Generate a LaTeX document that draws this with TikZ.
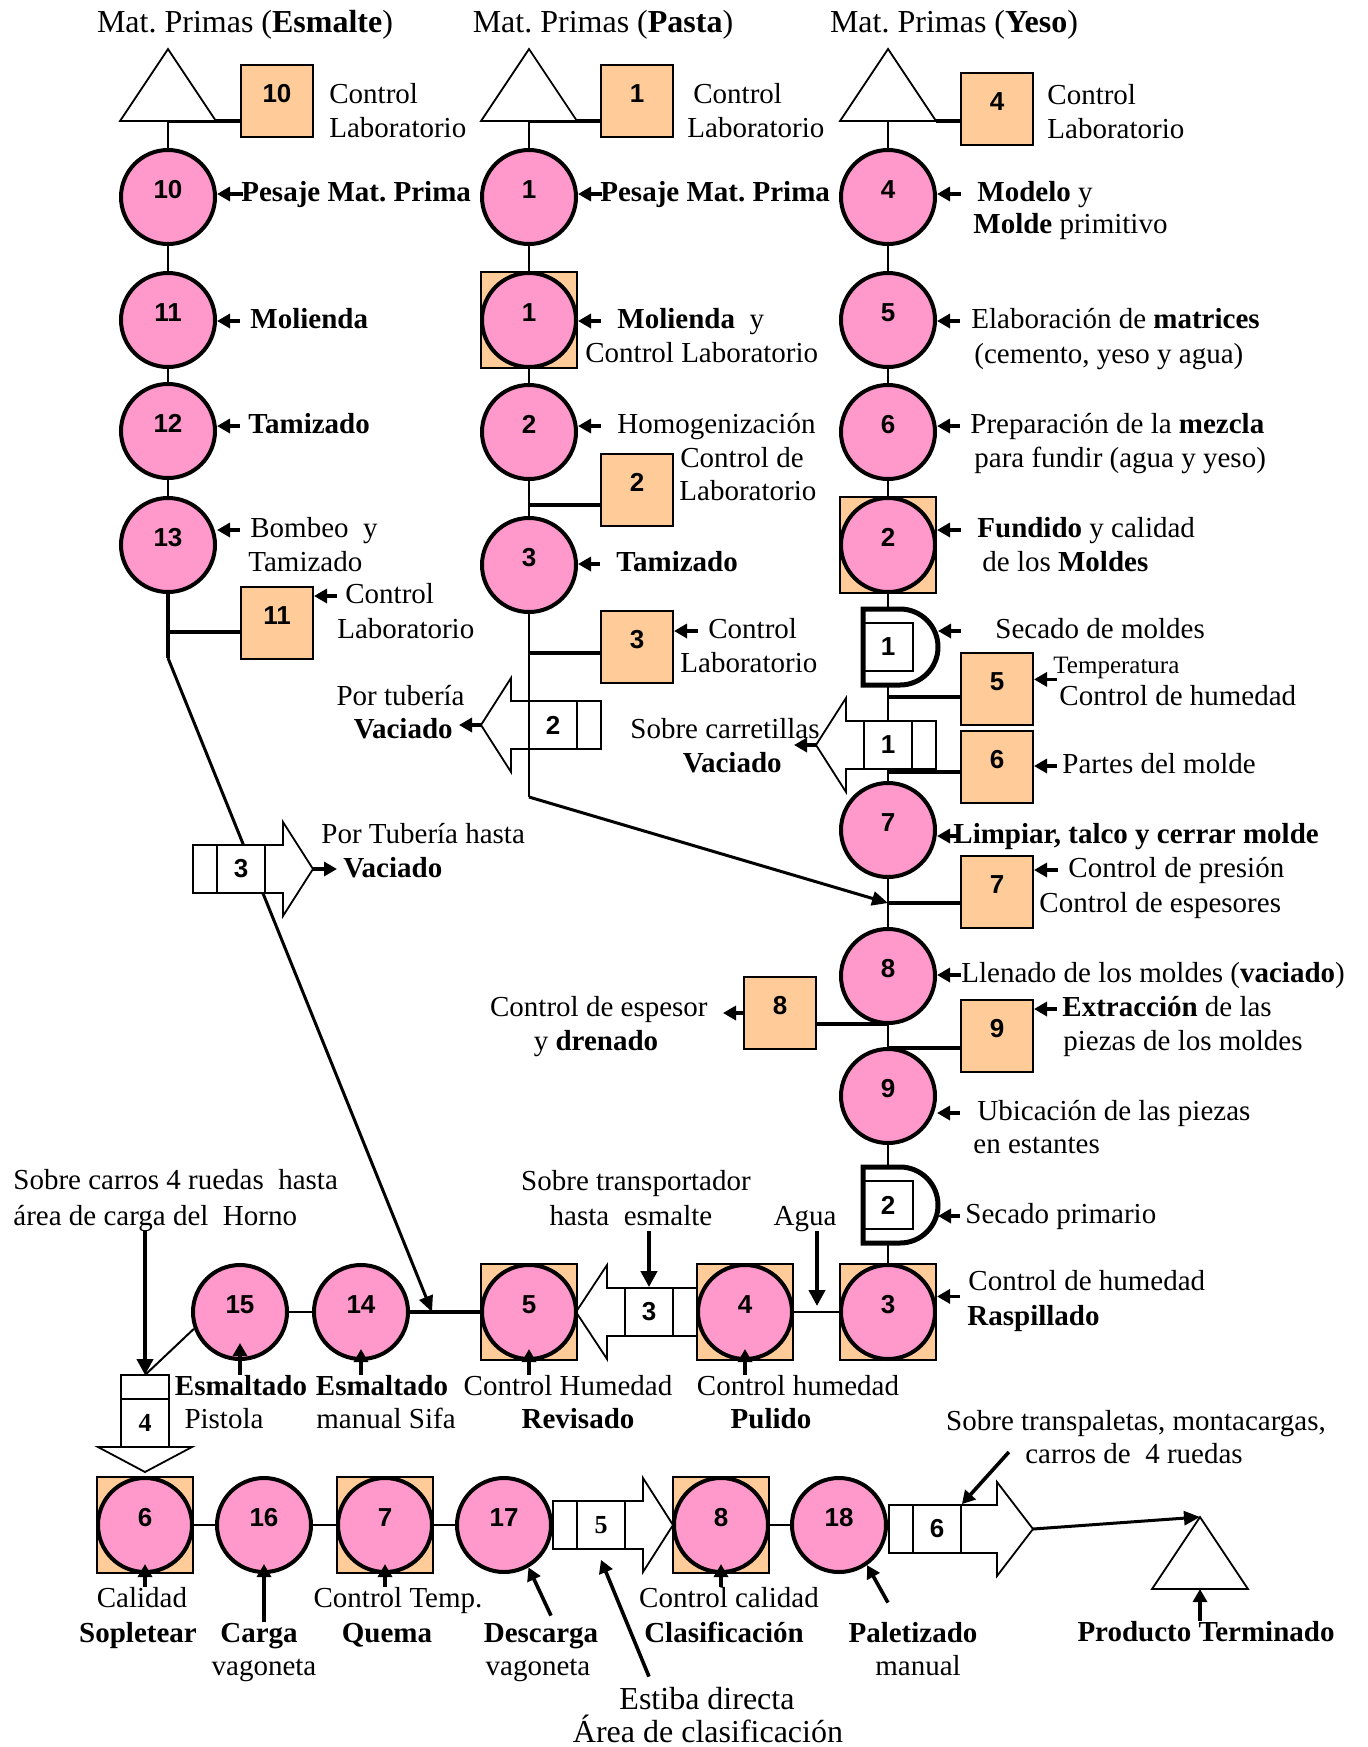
\documentclass[tikz,border=0pt]{standalone}
\usepackage{fontspec}
\setmainfont{Liberation Serif}
\newfontfamily\numfont{Liberation Sans}
\usepackage{tikz}
\usetikzlibrary{arrows.meta,backgrounds}
\definecolor{oppink}{RGB}{255,153,204}
\definecolor{ctrlorange}{RGB}{255,204,153}
\newcommand{\lblfont}{\fontsize{14.5}{17}\selectfont}
\newcommand{\numfnt}{\numfont\bfseries\fontsize{13}{15}\selectfont}
\newcommand{\storetri}[3]{\draw[tristore] (#2,#3) -- ++(-48,72) -- ++(96,0) -- cycle; \coordinate (#1) at (#2,#3+72); \coordinate (#1-r) at (#2+48,#3+72); \coordinate (#1-top) at (#2,#3);}
\newcommand{\transarrow}[7]{\begin{scope}[shift={(#2,#3)},rotate=#4]
	\draw[tarrow] (-48,-24) -- (#6,-24) -- (#6,-47) -- (#7,0) -- (#6,47) -- (#6,24) -- (-48,24) -- cycle; \draw[tarrow] (-24,-24) -- (-24,24);
	\node[tbox] (#1) at (0,0) {#5}; \coordinate (#1-tip) at (#7,0); \coordinate (#1-back) at (-48,0);
	\end{scope}}
\newcommand{\delaybox}[4]{\begin{scope}[shift={(#2,#3)}]
	\fill[white] (-25,-38) -- (12,-38) arc[start angle=90,end angle=-90,radius=19pt] -- (-25,38) -- cycle;
	\node[dbox] (#1) at (0,0) {#4};
	\draw[delayline] (-25,-38) -- (12,-38) arc[start angle=90,end angle=-90,radius=19pt] -- (-25,38) -- cycle; \coordinate (#1-r) at (50,0);
	\end{scope}}

\begin{document}
\frenchspacing
\begin{tikzpicture}[x=0.5pt,y=-0.5pt,
	opcirc/.style={circle,draw,line width=2pt,fill=oppink,minimum size=47pt,inner sep=0pt,font=\numfnt,text height=9pt,text depth=8pt},
	ctrlsq/.style={rectangle,draw,line width=1pt,fill=ctrlorange,minimum size=36pt,inner sep=0pt,font=\numfnt,text height=9pt,text depth=8pt},
	bigsq/.style={ctrlsq,minimum size=48pt},
	tbox/.style={rectangle,draw,line width=0.9pt,fill=white,minimum size=24pt,inner sep=0pt,font=\numfnt},
	dbox/.style={tbox,minimum width=25pt,minimum height=24pt},
	tarrow/.style={draw,line width=0.9pt,fill=white},
	delayline/.style={draw,line width=2.5pt},
	tristore/.style={draw,line width=0.9pt,fill=white},
	lbl/.style={inner sep=0pt,anchor=west,text height=10pt,text depth=3pt,font=\lblfont},
	lblb/.style={lbl,font=\lblfont\bfseries},
	lblc/.style={lbl,anchor=center}, lblcb/.style={lblb,anchor=center},
	titletext/.style={inner sep=0pt,font=\fontsize{16}{19}\selectfont},
	flowline/.style={line width=1pt}, ctrlline/.style={line width=1.7pt},
	lblarrow/.style={-{Triangle[length=6.5pt,width=7pt]},line width=1.8pt},
	feedarrow/.style={-{Triangle[length=8pt,width=8pt]},line width=2pt},
	bigarrow/.style={-{Triangle[length=8pt,width=7pt]},line width=1.5pt}]
	\useasboundingbox (0,0) rectangle (1367,1747);
	\node[titletext] (tE) at (245,25) {Mat. Primas (\textbf{Esmalte})};
	\node[titletext] (tP) at (603,25) {Mat. Primas (\textbf{Pasta})};
	\node[titletext] (tY) at (954,25) {Mat. Primas (\textbf{Yeso})};
	\storetri{t1}{168}{49} \storetri{t2}{529}{49} \storetri{t3}{888}{49} \storetri{t4}{1200}{1517}

	\node[ctrlsq] (q10) at (277,101) {10};
	\node[opcirc] (e10) at (168,197) {10}; \node[opcirc] (e11) at (168,320) {11};
	\node[opcirc] (e12) at (168,431) {12}; \node[opcirc] (e13) at (168,545) {13};
	\node[ctrlsq] (q11) at (277,623) {11};
	\transarrow{a3}{241}{869}{0}{3}{42}{72}

	\node[ctrlsq] (q1) at (637,101) {1};
	\node[opcirc] (p1) at (529,197) {1};
	\node[bigsq] (p1q) at (529,320) {}; \node[opcirc] (p1b) at (529,320) {1};
	\node[opcirc] (p2) at (529,432) {2}; \node[ctrlsq] (q2) at (637,490) {2};
	\node[opcirc] (p3) at (529,565) {3}; \node[ctrlsq] (q3) at (637,647) {3};
	\transarrow{a2}{553}{725}{180}{2}{42}{72}

	\node[ctrlsq] (q4) at (997,109) {4};
	\node[opcirc] (y4) at (888,197) {4}; \node[opcirc] (y5) at (888,320) {5}; \node[opcirc] (y6) at (888,432) {6};
	\node[bigsq] (y2q) at (888,545) {}; \node[opcirc] (y2) at (888,545) {2};
	\delaybox{d1}{888}{647}{1}
	\node[ctrlsq] (q5) at (997,689) {5};
	\transarrow{a1}{888}{745}{180}{1}{42}{72}
	\node[ctrlsq] (q6) at (997,767) {6};
	\node[opcirc] (y7) at (888,830) {7}; \node[ctrlsq] (q7) at (997,892) {7};
	\node[opcirc] (y8) at (888,976) {8}; \node[ctrlsq] (q8) at (780,1013) {8};
	\node[ctrlsq] (q9) at (997,1036) {9}; \node[opcirc] (y9) at (888,1096) {9};
	\delaybox{d2}{888}{1205}{2}
	\node[bigsq] (y3q) at (888,1312) {}; \node[opcirc] (y3) at (888,1312) {3};

	\node[bigsq] (c4q) at (745,1312) {}; \node[opcirc] (c4) at (745,1312) {4};
	\transarrow{a3b}{649}{1312}{180}{3}{42}{73}
	\node[bigsq] (c5q) at (529,1312) {}; \node[opcirc] (c5) at (529,1312) {5};
	\node[opcirc] (c14) at (361,1312) {14}; \node[opcirc] (c15) at (240,1312) {15};
	\transarrow{a4}{145}{1423}{-90}{{\rmfamily 4}}{24}{49}

	\node[bigsq] (c6q) at (145,1525) {}; \node[opcirc] (c6) at (145,1525) {6};
	\node[opcirc] (c16) at (264,1525) {16};
	\node[bigsq] (c7q) at (385,1525) {}; \node[opcirc] (c7) at (385,1525) {7};
	\node[opcirc] (c17) at (504,1525) {17};
	\transarrow{a5}{601}{1525}{0}{{\rmfamily 5}}{42}{72}
	\node[bigsq] (c8q) at (721,1525) {}; \node[opcirc] (c8) at (721,1525) {8};
	\node[opcirc] (c18) at (839,1525) {18};
	\transarrow{a6}{937}{1529}{0}{6}{60}{96}

	\coordinate (k1) at (168,658); \coordinate (j11) at (168,632); \coordinate (m5) at (432,1312);
	\coordinate (k2) at (529,797); \coordinate (j2) at (529,505); \coordinate (j3) at (529,653);
	\coordinate (j5) at (888,697); \coordinate (j6) at (888,772); \coordinate (j7) at (888,903);
	\coordinate (j8) at (888,1024); \coordinate (j9) at (888,1048);
	\begin{scope}[on background layer]
		\draw[flowline] (t1) -- (e13); \draw[ctrlline] (e13) -- (k1); \draw[ctrlline] (t1) -- (t1 -| q10.west);
		\draw[ctrlline] (j11) -- (j11 -| q11.west); \draw[bigarrow] (k1) -- (m5);
		\draw[flowline] (t2) -- (k2); \draw[ctrlline] (t2) -- (t2 -| q1.west);
		\draw[ctrlline] (j2) -- (j2 -| q2.west); \draw[ctrlline] (j3) -- (j3 -| q3.west); \draw[bigarrow] (k2) -- (j7);
		\draw[flowline] (t3) -- (y3); \draw[ctrlline] (t3-r) -- (t3-r -| q4.west);
		\draw[ctrlline] (j5) -- (j5 -| q5.west); \draw[ctrlline] (j6) -- (j6 -| q6.west); \draw[ctrlline] (j7) -- (j7 -| q7.west);
		\draw[ctrlline] (j8) -- (j8 -| q8.east); \draw[ctrlline] (j9) -- (j9 -| q9.west);
		\draw[flowline] (y3) -- (c4); \draw[ctrlline] (c14) -- (c5); \draw[flowline] (c15) -- (c14); \draw[flowline] (c15.200) -- (a4-back);
		\draw[flowline] (c6) -- (c16) -- (c7) -- (c17); \draw[flowline] (c8) -- (c18);
	\end{scope}
	\draw[bigarrow] (a6-tip) -- (t4-top);

	\node[lbl] (lq10) at (329,96) {Control}; \node[lbl] (lq10b) at (329,130) {Laboratorio};
	\node[lbl] (lq1) at (693,96) {Control}; \node[lbl] (lq1b) at (687,130) {Laboratorio};
	\node[lbl] (lq4) at (1047,97) {Control}; \node[lbl] (lq4b) at (1047,131) {Laboratorio};

	\node[lblb] (l10) at (241,194) {Pesaje Mat. Prima}; \draw[lblarrow] ([xshift=1pt]l10.west) -- (l10.west -| e10.east);
	\node[lblb] (l11) at (250,321) {Molienda}; \draw[lblarrow] ([xshift=-5pt]l11.west) -- (l11.west -| e11.east);
	\node[lblb] (l12) at (248,426) {Tamizado}; \draw[lblarrow] ([xshift=-4pt]l12.west) -- (l12.west -| e12.east);
	\node[lbl] (l13) at (250,530) {Bombeo\ \ y}; \node[lbl] (l13b) at (248,564) {Tamizado};
	\draw[lblarrow] ([xshift=-5pt]l13.west) -- (l13.west -| e13.east);
	\node[lbl] (lq11) at (345,596) {Control}; \node[lbl] (lq11b) at (337,631) {Laboratorio};
	\draw[lblarrow] ([xshift=-4pt]lq11.west) -- (lq11.west -| q11.east);
	\node[lbl] (lPorE) at (321,836) {Por Tubería hasta}; \node[lblb] (lVacE) at (343,870) {Vaciado};
	\draw[lblarrow] (a3-tip) -- ([xshift=-3pt]lVacE.west |- a3-tip);

	\node[lblb] (l1) at (600,194) {Pesaje Mat. Prima}; \draw[lblarrow] ([xshift=1pt]l1.west) -- (l1.west -| p1.east);
	\node[lbl] (l1b) at (617,321) {\textbf{Molienda}\ \ y}; \node[lbl] (l1bb) at (585,355) {Control Laboratorio};
	\draw[lblarrow] ([xshift=-8pt]l1b.west) -- (l1b.west -| p1q.east);
	\node[lbl] (l2) at (617,426) {Homogenización}; \draw[lblarrow] ([xshift=-8pt]l2.west) -- (l2.west -| p2.east);
	\node[lbl] (lq2) at (680,460) {Control de}; \node[lbl] (lq2b) at (679,493) {Laboratorio};
	\node[lblb] (l3) at (616,564) {Tamizado}; \draw[lblarrow] ([xshift=-8pt]l3.west) -- (l3.west -| p3.east);
	\node[lbl] (lq3) at (708,631) {Control}; \node[lbl] (lq3b) at (680,665) {Laboratorio};
	\draw[lblarrow] ([xshift=-5pt]lq3.west) -- (lq3.west -| q3.east);
	\node[lbl,anchor=east] (lPorP) at (465,698) {Por tubería}; \node[lblb,anchor=east] (lVacP) at (453,731) {Vaciado};
	\draw[lblarrow] (a2-tip) -- ([xshift=3pt]lVacP.east |- a2-tip);

	\node[lbl] (l4) at (977,194) {\textbf{Modelo} y}; \node[lbl] (l4b) at (973,226) {\textbf{Molde} primitivo};
	\draw[lblarrow] ([xshift=-8pt]l4.west) -- (l4.west -| y4.east);
	\node[lbl] (l5) at (971,321) {Elaboración de \textbf{matrices}}; \node[lbl] (l5b) at (974,356) {(cemento, yeso y agua)};
	\draw[lblarrow] ([xshift=-5.5pt]l5.west) -- (l5.west -| y5.east);
	\node[lbl] (l6) at (970,426) {Preparación de la \textbf{mezcla}}; \node[lbl] (l6b) at (974,460) {para fundir (agua y yeso)};
	\draw[lblarrow] ([xshift=-5pt]l6.west) -- (l6.west -| y6.east);
	\node[lbl] (l2y) at (977,530) {\textbf{Fundido} y calidad}; \node[lbl] (l2yb) at (982,564) {de los \textbf{Moldes}};
	\draw[lblarrow] ([xshift=-8pt]l2y.west) -- (l2y.west -| y2q.east);
	\node[lbl] (ld1) at (995,631) {Secado de moldes}; \draw[lblarrow] ([xshift=-17pt]ld1.west) -- (ld1.west -| d1-r);
	\node[lbl,font=\fontsize{12.5}{14}\selectfont] (lq5) at (1053,666) {Temperatura}; \node[lbl] (lq5b) at (1059,698) {Control de humedad};
	\draw[lblarrow] ([xshift=2pt]lq5.south west) -- (lq5.south west -| q5.east);
	\node[lbl,anchor=east] (lSobC) at (820,731) {Sobre carretillas}; \node[lblb,anchor=east] (lVacY) at (782,765) {Vaciado};
	\draw[lblarrow] (a1-tip) -- ([xshift=6pt]lVacY.east |- a1-tip);
	\node[lbl] (lq6) at (1062,766) {Partes del molde}; \draw[lblarrow] ([xshift=-2.5pt]lq6.west) -- (lq6.west -| q6.east);
	\node[lblb] (l7) at (953,836) {Limpiar, talco y cerrar molde}; \draw[lblarrow] ([xshift=3pt]l7.west) -- (l7.west -| y7.east);
	\node[lbl] (lq7) at (1068,870) {Control de presión}; \node[lbl] (lq7b) at (1039,905) {Control de espesores};
	\draw[lblarrow] ([xshift=-5pt]lq7.west) -- (lq7.west -| q7.east);
	\node[lbl] (l8) at (961,975) {Llenado de los moldes (\textbf{vaciado})}; \draw[lblarrow] (l8.west) -- (l8.west -| y8.east);
	\node[lbl,anchor=east] (lq8) at (708,1009) {Control de espesor}; \node[lblc] (lq8b) at (596,1043) {y \textbf{drenado}};
	\draw[lblarrow] (q8.west) -- ([xshift=7.5pt]lq8.east |- q8.west);
	\node[lbl] (lq9) at (1062,1009) {\textbf{Extracción} de las}; \node[lbl] (lq9b) at (1063,1043) {piezas de los moldes};
	\draw[lblarrow] ([xshift=-2.5pt]lq9.west) -- (lq9.west -| q9.east);
	\node[lbl] (l9) at (977,1113) {Ubicación de las piezas}; \node[lbl] (l9b) at (973,1146) {en estantes};
	\draw[lblarrow] ([xshift=-8.5pt]l9.west) -- (l9.west -| y9.east);
	\node[lbl] (ld2) at (965,1216) {Secado primario}; \draw[lblarrow] ([xshift=-2.5pt]ld2.west) -- (ld2.west -| d2-r);
	\node[lbl] (l3y) at (968,1283) {Control de humedad}; \node[lblb] (l3yb) at (967,1318) {Raspillado};
	\draw[lblarrow] ([xshift=-4pt]l3y.south west) -- (l3y.south west -| y3q.east);

	\node[lbl] (lSc) at (13,1182) {Sobre carros 4 ruedas\ \ hasta}; \node[lbl] (lSc2) at (13,1218) {área de carga del\ \ Horno};
	\draw[feedarrow] (lSc2.south -| a4-back) -- (a4-back);
	\node[lblc] (lTr) at (636,1183) {Sobre transportador}; \node[lblc] (lTr2) at (631,1218) {hasta\ \ esmalte};
	\draw[feedarrow] (lTr2.south -| a3b) -- (a3b.north);
	\node[lblc] (lAgua) at (805,1218) {Agua}; \draw[feedarrow] ([xshift=6pt]lAgua.south) -- ([xshift=6pt,yshift=3pt]lAgua.south |- c4.east);
	\node[lblcb] (l15) at (241,1388) {Esmaltado}; \node[lblc] (l15b) at (224,1421) {Pistola};
	\draw[lblarrow] (c15.south |- l15.north) -- ([yshift=9pt]c15.south);
	\node[lblcb] (l14) at (382,1388) {Esmaltado}; \node[lblc] (l14b) at (386,1421) {manual Sifa};
	\draw[lblarrow] (c14.south |- l14.north) -- ([yshift=6pt]c14.south);
	\node[lblc] (l5c) at (568,1388) {Control Humedad}; \node[lblcb] (l5cb) at (578,1421) {Revisado};
	\draw[lblarrow] (c5.south |- l5c.north) -- ([yshift=6pt]c5.south);
	\node[lblc] (l4c) at (798,1388) {Control humedad}; \node[lblcb] (l4cb) at (771,1421) {Pulido};
	\draw[lblarrow] (c4.south |- l4c.north) -- ([yshift=6pt]c4.south);

	\node[lblc] (l6c) at (142,1600) {Calidad}; \node[lblcb] (l6cb) at (138,1635) {Sopletear};
	\draw[lblarrow] (c6.south |- l6c.north) -- ([yshift=5pt]c6.south);
	\node[lblcb] (l16) at (259,1635) {Carga}; \node[lblc] (l16b) at (264,1668) {vagoneta};
	\draw[lblarrow] (c16.south |- l16.north) -- ([yshift=5pt]c16.south);
	\node[lblc] (l7c) at (398,1600) {Control Temp.}; \node[lblcb] (l7cb) at (387,1635) {Quema};
	\draw[lblarrow] (c7.south |- l7c.north) -- ([yshift=5pt]c7.south);
	\node[lblcb] (l17) at (541,1635) {Descarga}; \node[lblc] (l17b) at (538,1668) {vagoneta};
	\draw[lblarrow] ([xshift=5pt,yshift=3pt]l17.north) -- (c17.-60);
	\node[lblc,font=\fontsize{16}{19}\selectfont] (lEst) at (707,1702) {Estiba directa};
	\node[lblc,font=\fontsize{16}{19}\selectfont] (lEst2) at (708,1735) {Área de clasificación};
	\draw[lblarrow] ([xshift=-29pt,yshift=6pt]lEst.north) -- ([yshift=-5pt]a5.south);
	\node[lblc] (l8c) at (729,1600) {Control calidad}; \node[lblcb] (l8cb) at (724,1635) {Clasificación};
	\draw[lblarrow] (c8.south |- l8c.north) -- ([yshift=5pt]c8.south);
	\node[lblcb] (l18) at (913,1635) {Paletizado}; \node[lblc] (l18b) at (918,1668) {manual};
	\draw[lblarrow] ([xshift=-12.5pt,yshift=9.5pt]l18.north) -- (c18.-55);
	\node[lblcb] (lProd) at (1206,1634) {Producto Terminado}; \draw[lblarrow] (lProd.north -| t4) -- (t4);
	\node[lblc] (lTp) at (1136,1423) {Sobre transpaletas, montacargas,}; \node[lblc] (lTp2) at (1134,1456) {carros de\ \ 4 ruedas};
	\draw[lblarrow] ([xshift=-8pt,yshift=2pt]lTp2.west) -- (a6.north east);
\end{tikzpicture}
\end{document}
